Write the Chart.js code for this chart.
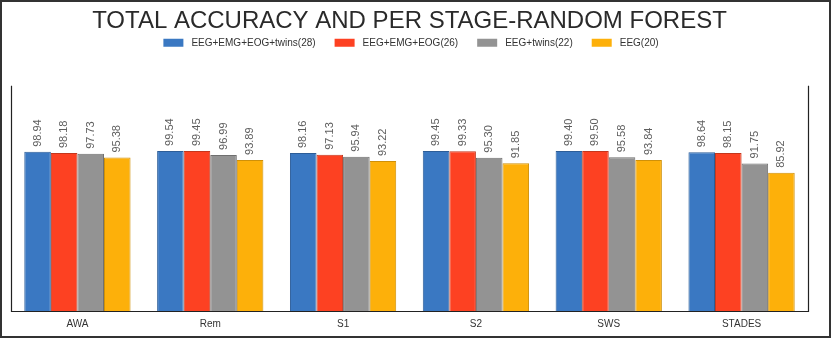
<!DOCTYPE html>
<html><head><meta charset="utf-8">
<script src="https://cdn.jsdelivr.net/npm/chart.js@4/dist/chart.umd.min.js"></script>
<style>html,body{margin:0;padding:0;background:#fff}#wrap{width:833px;height:339px;position:relative}</style>
</head><body><div id="wrap"><canvas id="c" width="833" height="339"></canvas></div>
<script>
const categories = ["AWA","Rem","S1","S2","SWS","STADES"];
const seriesNames = ["EEG+EMG+EOG+twins(28)","EEG+EMG+EOG(26)","EEG+twins(22)","EEG(20)"];
const allSignalsTwins = [98.94, 99.54, 98.16, 99.45, 99.40, 98.64];
const allSignals = [98.18, 99.45, 97.13, 99.33, 99.50, 98.15];
const eegTwins = [97.73, 96.99, 95.94, 95.30, 95.58, 91.75];
const eegOnly = [95.38, 93.89, 93.22, 91.85, 93.84, 85.92];
const fills = ["#3a78c2","#fd4122","#939393","#fdb00a"];
const edges = ["#2c5d98","#c4361c","#6f6f6f","#cf9008"];
const values = [allSignalsTwins, allSignals, eegTwins, eegOnly];

const framePlugin = {
  id:'frame',
  beforeDraw(chart){
    const ctx = chart.ctx;
    ctx.save();
    ctx.fillStyle = '#fff';
    ctx.fillRect(0,0,chart.width,chart.height);
    ctx.restore();
  },
  afterDraw(chart){
    const ctx = chart.ctx, a = chart.chartArea;
    ctx.save();
    ctx.strokeStyle = '#222';
    ctx.lineWidth = 1.2;
    ctx.beginPath();
    ctx.moveTo(Math.round(a.left)+0.5, a.top);
    ctx.lineTo(Math.round(a.left)+0.5, Math.round(a.bottom)+0.5);
    ctx.lineTo(Math.round(a.right)+0.5, Math.round(a.bottom)+0.5);
    ctx.lineTo(Math.round(a.right)+0.5, a.top);
    ctx.stroke();
    ctx.strokeStyle = '#333';
    ctx.lineWidth = 2;
    ctx.strokeRect(1,1,829,336);
    ctx.restore();
  }
};
const labelPlugin = {
  id:'barLabels',
  afterDatasetsDraw(chart){
    const ctx = chart.ctx;
    ctx.save();
    ctx.font = '11px "Liberation Sans", Arial, sans-serif';
    ctx.fillStyle = '#5e5e5e';
    ctx.textAlign = 'left';
    ctx.textBaseline = 'middle';
    chart.data.datasets.forEach((ds, i) => {
      const meta = chart.getDatasetMeta(i);
      meta.data.forEach((bar, j) => {
        ctx.save();
        ctx.translate(bar.x, bar.y - 5);
        ctx.rotate(-Math.PI/2);
        ctx.fillText(ds.data[j].toFixed(2), 0, 0);
        ctx.restore();
      });
    });
    ctx.restore();
  }
};

new Chart(document.getElementById('c'), {
  type:'bar',
  data:{
    labels: categories,
    datasets: seriesNames.map((n,i)=>({
      label:n, data: values[i], backgroundColor: fills[i], borderColor: edges[i], borderWidth: 1,
      categoryPercentage: 0.8, barPercentage: 1.0
    }))
  },
  options:{
    responsive:false, animation:false,
    layout:{padding:{left:11, right:25, top:3, bottom:2}},
    plugins:{
      title:{display:true, text:'TOTAL ACCURACY AND PER STAGE-RANDOM FOREST', color:'#2a2a2a',
        font:{family:'"Liberation Sans", Arial, sans-serif', size:24, weight:'normal'}, padding:{top:4,bottom:-16}},
      legend:{position:'top', labels:{boxWidth:26, boxHeight:14, color:'#333', padding:16,
        font:{family:'"Liberation Sans", Arial, sans-serif', size:10},
        generateLabels(chart){
          return chart.data.datasets.map((ds,i)=>({
            text: ds.label, fillStyle: fills[i], strokeStyle: '#ffffff', lineWidth: 6,
            fontColor:'#333', hidden:false, datasetIndex:i
          }));
        }}},
      tooltip:{enabled:false}
    },
    scales:{
      x:{grid:{display:false, drawTicks:false, tickLength:0}, border:{display:false}, ticks:{color:'#333', padding:7,
        font:{family:'"Liberation Sans", Arial, sans-serif', size:10}}},
      xTop:{type:'category', labels: categories, position:'top', grid:{display:false, drawTicks:false, tickLength:0},
        border:{display:false}, ticks:{display:false}, afterFit(s){ s.height = 26; }},
      y:{display:false, min:0, max:140}
    }
  },
  plugins:[framePlugin, labelPlugin]
});
</script></body></html>
